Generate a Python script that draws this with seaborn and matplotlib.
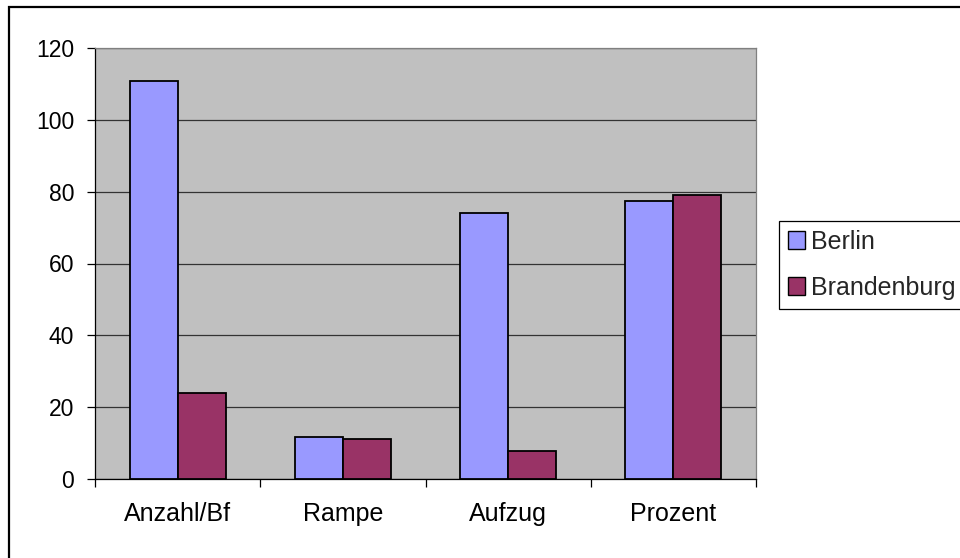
import matplotlib
matplotlib.use("Agg")
import matplotlib.pyplot as plt
import seaborn as sns
import pandas as pd
from matplotlib.patches import Patch, Rectangle

categories = ["Anzahl/Bf", "Rampe", "Aufzug", "Prozent"]
berlin = [111.0, 11.7, 74.2, 77.5]
brandenburg = [24.0, 11.1, 7.7, 79.2]
series_names = ["Berlin", "Brandenburg"]
colors = ["#9999FF", "#993366"]
y_ticks = [0, 20, 40, 60, 80, 100, 120]

df = pd.DataFrame({
    "Kategorie": categories * 2,
    "Wert": berlin + brandenburg,
    "Serie": [series_names[0]] * len(categories) + [series_names[1]] * len(categories),
})

sns.set_theme(style="white")
plt.rcParams["font.family"] = ["Liberation Sans", "DejaVu Sans"]

fig = plt.figure(figsize=(9.6, 5.58), dpi=100)
ax = fig.add_axes([95 / 960, 1 - 478.7 / 558, (756 - 95) / 960, (478.7 - 48.3) / 558])
ax.set_facecolor("#C0C0C0")

sns.barplot(data=df, x="Kategorie", y="Wert", hue="Serie", order=categories,
            hue_order=series_names, palette=colors, width=0.58, gap=0,
            edgecolor="black", linewidth=1.3, saturation=1, legend=False, ax=ax, zorder=3)

ax.set_xlim(-0.5, len(categories) - 0.5)
ax.set_ylim(0, 120)
ax.set_yticks(y_ticks)
ax.yaxis.grid(True, color="#333333", linewidth=0.9, zorder=1)
ax.set_axisbelow(True)
ax.set_xlabel("")
ax.set_ylabel("")

ax.set_xticks(range(len(categories)))
ax.set_xticklabels(categories)
ax.set_xticks([i - 0.5 for i in range(len(categories) + 1)], minor=True)
ax.tick_params(axis="x", which="major", length=0, pad=17, labelsize=18, colors="black")
ax.tick_params(axis="x", which="minor", length=6, width=0.9, color="black", direction="out", bottom=True)
ax.tick_params(axis="y", which="major", length=6, width=0.9, color="black", direction="out",
               left=True, pad=9, labelsize=16.5, labelcolor="black")

for side in ["top", "right"]:
    ax.spines[side].set_color("#808080")
    ax.spines[side].set_linewidth(0.9)
ax.spines["left"].set_color("black")
ax.spines["bottom"].set_color("black")
ax.spines["left"].set_linewidth(0.9)
ax.spines["bottom"].set_linewidth(0.9)

handles = [Patch(facecolor=c, edgecolor="black", linewidth=1.0) for c in colors]
leg = fig.legend(handles, series_names, loc="upper left",
                 bbox_to_anchor=(779 / 960, 1 - 221 / 558), bbox_transform=fig.transFigure,
                 fontsize=18, frameon=True, fancybox=False, framealpha=1,
                 edgecolor="black", handlelength=0.68, handleheight=0.68,
                 handletextpad=0.25, labelspacing=0.88, borderpad=0.35, borderaxespad=0)
leg.get_frame().set_linewidth(0.9)

fig.patches.append(Rectangle((8.5 / 960, -0.2), 1.2, 1.2 - 6.5 / 558,
                             transform=fig.transFigure, fill=False,
                             edgecolor="black", linewidth=1.6, clip_on=False))

fig.savefig("out.png", dpi=100, facecolor="white")
